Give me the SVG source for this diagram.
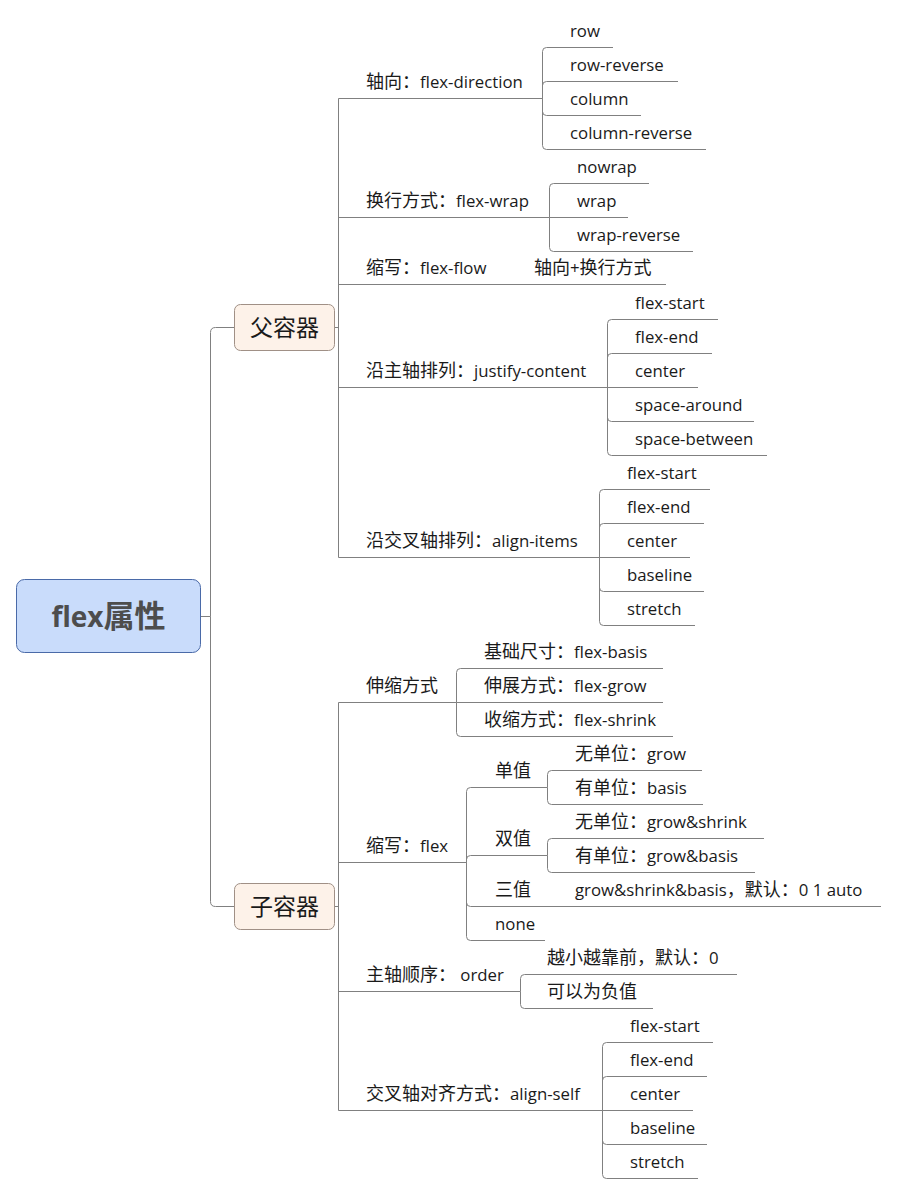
<svg xmlns="http://www.w3.org/2000/svg" width="897" height="1194" viewBox="0 0 897 1194">
<style>
.t{font-family:"Open Sans","Noto Sans CJK SC",sans-serif;font-size:16.8px;fill:#1a1a1a}
.c{font-family:"Noto Sans CJK SC",sans-serif;font-size:18px}
.ln{fill:none;stroke:#808080;stroke-width:1}
.root rect{fill:#c9dcfb;stroke:#4a6aa8;stroke-width:1}
.root text{font-family:"Open Sans","Noto Sans CJK SC",sans-serif;font-size:28px;font-weight:bold;fill:#4d4d4d;text-anchor:middle}
.root tspan{font-family:"Noto Sans CJK SC",sans-serif;font-size:31px}
.sub rect{fill:#fdf2e9;stroke:#a09086;stroke-width:1}
.sub text{font-family:"Noto Sans CJK SC",sans-serif;font-size:23px;fill:#1a1a1a;text-anchor:middle}
</style>
<rect width="897" height="1194" fill="#ffffff"/>
<g id="connectors" class="ln">
<path d="M200.5,616.5H210.5M210.5,616.5V332.5Q210.5,327.5 215.5,327.5H234.5M210.5,616.5V901.5Q210.5,906.5 215.5,906.5H234.5"/>
<path d="M334.5,327.5H338.5M338.5,98.5V557.5M338.5,98.5H542.5M338.5,217.5H549.5M338.5,284.5H666M338.5,387.5H607.5M338.5,557.5H599.5"/>
<path d="M542.5,98.5V51.5Q542.5,47.5 546.5,47.5H613M542.5,98.5V85.5Q542.5,81.5 546.5,81.5H678M542.5,98.5V111.5Q542.5,115.5 546.5,115.5H641M542.5,98.5V145.5Q542.5,149.5 546.5,149.5H706"/>
<path d="M549.5,217.5V187.5Q549.5,183.5 553.5,183.5H649M549.5,217.5H628M549.5,217.5V247.5Q549.5,251.5 553.5,251.5H693"/>
<path d="M607.5,387.5V323.5Q607.5,319.5 611.5,319.5H718M607.5,387.5V357.5Q607.5,353.5 611.5,353.5H712M607.5,387.5H698M607.5,387.5V417.5Q607.5,421.5 611.5,421.5H754M607.5,387.5V451.5Q607.5,455.5 611.5,455.5H767"/>
<path d="M599.5,557.5V493.5Q599.5,489.5 603.5,489.5H710M599.5,557.5V527.5Q599.5,523.5 603.5,523.5H704M599.5,557.5H690M599.5,557.5V587.5Q599.5,591.5 603.5,591.5H704M599.5,557.5V621.5Q599.5,625.5 603.5,625.5H695"/>
<path d="M334.5,906.5H338.5M338.5,702.5V1110.5M338.5,702.5H456.5M338.5,862.5H466.5M338.5,991.5H520.5M338.5,1110.5H602.5"/>
<path d="M456.5,702.5V672.5Q456.5,668.5 460.5,668.5H663M456.5,702.5H663M456.5,702.5V732.5Q456.5,736.5 460.5,736.5H673"/>
<path d="M466.5,862.5V791.5Q466.5,787.5 470.5,787.5H547.5M466.5,862.5V859.5Q466.5,855.5 470.5,855.5H547.5M466.5,862.5V902.5Q466.5,906.5 470.5,906.5H881M466.5,862.5V936.5Q466.5,940.5 470.5,940.5H545"/>
<path d="M547.5,787.5V774.5Q547.5,770.5 551.5,770.5H702M547.5,787.5V800.5Q547.5,804.5 551.5,804.5H703"/>
<path d="M547.5,855.5V842.5Q547.5,838.5 551.5,838.5H764M547.5,855.5V868.5Q547.5,872.5 551.5,872.5H755"/>
<path d="M520.5,991.5V978.5Q520.5,974.5 524.5,974.5H737M520.5,991.5V1004.5Q520.5,1008.5 524.5,1008.5H653"/>
<path d="M602.5,1110.5V1046.5Q602.5,1042.5 606.5,1042.5H713M602.5,1110.5V1080.5Q602.5,1076.5 606.5,1076.5H707M602.5,1110.5H693M602.5,1110.5V1140.5Q602.5,1144.5 606.5,1144.5H707M602.5,1110.5V1174.5Q602.5,1178.5 606.5,1178.5H698"/>
</g>
<g id="root" class="root"><rect x="16.5" y="579.5" width="184" height="73" rx="8"/><text x="108.5" y="627">flex<tspan>属性</tspan></text></g>
<g id="parent" class="sub"><rect x="234.5" y="304.5" width="100" height="46" rx="6"/><text x="284.5" y="335.5">父容器</text></g>
<g id="child" class="sub"><rect x="234.5" y="883.5" width="100" height="46" rx="6"/><text x="284.5" y="914.5">子容器</text></g>
<g id="n-direction" class="t"><text x="366" y="88"><tspan class="c">轴向：</tspan>flex-direction</text>
<text x="570" y="37">row</text><text x="570" y="71">row-reverse</text><text x="570" y="105">column</text><text x="570" y="139">column-reverse</text></g>
<g id="n-wrap" class="t"><text x="366" y="207"><tspan class="c">换行方式：</tspan>flex-wrap</text>
<text x="577" y="173">nowrap</text><text x="577" y="207">wrap</text><text x="577" y="241">wrap-reverse</text></g>
<g id="n-flow" class="t"><text x="366" y="274"><tspan class="c">缩写：</tspan>flex-flow</text><text x="534" y="274"><tspan class="c">轴向</tspan>+<tspan class="c">换行方式</tspan></text></g>
<g id="n-justify" class="t"><text x="366" y="377"><tspan class="c">沿主轴排列：</tspan>justify-content</text>
<text x="635" y="309">flex-start</text><text x="635" y="343">flex-end</text><text x="635" y="377">center</text><text x="635" y="411">space-around</text><text x="635" y="445">space-between</text></g>
<g id="n-align-items" class="t"><text x="366" y="547"><tspan class="c">沿交叉轴排列：</tspan>align-items</text>
<text x="627" y="479">flex-start</text><text x="627" y="513">flex-end</text><text x="627" y="547">center</text><text x="627" y="581">baseline</text><text x="627" y="615">stretch</text></g>
<g id="n-flexing" class="t"><text x="366" y="692"><tspan class="c">伸缩方式</tspan></text>
<text x="484" y="658"><tspan class="c">基础尺寸：</tspan>flex-basis</text><text x="484" y="692"><tspan class="c">伸展方式：</tspan>flex-grow</text><text x="484" y="726"><tspan class="c">收缩方式：</tspan>flex-shrink</text></g>
<g id="n-flex" class="t"><text x="366" y="852"><tspan class="c">缩写：</tspan>flex</text>
<text x="495" y="777"><tspan class="c">单值</tspan></text><text x="495" y="845"><tspan class="c">双值</tspan></text><text x="495" y="896"><tspan class="c">三值</tspan></text><text x="495" y="930">none</text>
<text x="575" y="760"><tspan class="c">无单位：</tspan>grow</text><text x="575" y="794"><tspan class="c">有单位：</tspan>basis</text>
<text x="575" y="828"><tspan class="c">无单位：</tspan>grow&amp;shrink</text><text x="575" y="862"><tspan class="c">有单位：</tspan>grow&amp;basis</text>
<text x="575" y="896">grow&amp;shrink&amp;basis<tspan class="c">，默认：</tspan>0 1 auto</text></g>
<g id="n-order" class="t"><text x="366" y="981"><tspan class="c">主轴顺序：</tspan> order</text>
<text x="547" y="964"><tspan class="c">越小越靠前，默认：</tspan>0</text><text x="547" y="998"><tspan class="c">可以为负值</tspan></text></g>
<g id="n-align-self" class="t"><text x="366" y="1100"><tspan class="c">交叉轴对齐方式：</tspan>align-self</text>
<text x="630" y="1032">flex-start</text><text x="630" y="1066">flex-end</text><text x="630" y="1100">center</text><text x="630" y="1134">baseline</text><text x="630" y="1168">stretch</text></g>
</svg>
